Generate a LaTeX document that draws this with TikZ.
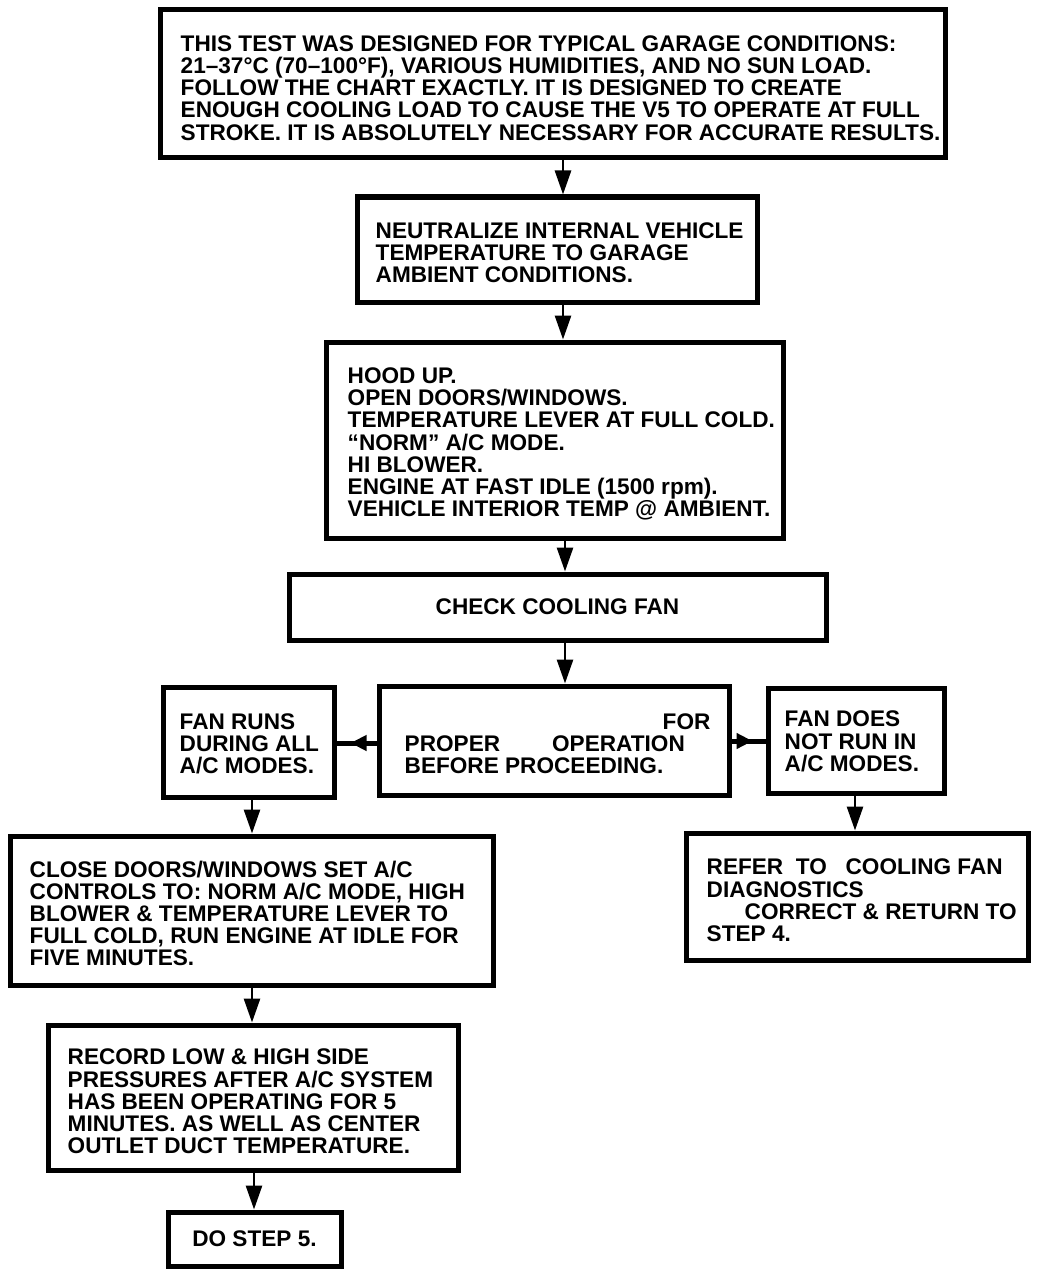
\documentclass[tikz,border=0pt]{standalone}
\usepackage{fontspec}
\setmainfont{Liberation Sans}
\usetikzlibrary{arrows.meta,decorations.markings}
\tikzset{
  box/.style={draw=black, line width=5pt, fill=white, inner sep=0pt},
  txt/.style={font=\fontsize{22.6}{22.2}\selectfont\bfseries, align=left, inner sep=0pt, text=black},
  ctxt/.style={font=\fontsize{22.6}{22.2}\selectfont\bfseries, align=center, text=black},
  arr/.style={draw=black, line width=2.8pt, -{Triangle[length=24pt,width=16pt]}},
  harr/.style={draw=black, line width=5pt, postaction={decorate},
    decoration={markings, mark=at position #1 with {\arrow{Triangle[length=16pt,width=15pt]}}}}
}
\begin{document}
\begin{tikzpicture}[x=1pt,y=-1pt]
\fill[white] (0,0) rectangle (1056,1276);
\useasboundingbox (0,0) rectangle (1056,1276);

% boxes
\node[box, minimum width=785pt, minimum height=148pt] (n1) at (552.5,84) {};
\node[txt, anchor=west] (t1) at ([xshift=23pt,yshift=-4pt]n1.west) {THIS TEST WAS DESIGNED FOR TYPICAL GARAGE CONDITIONS:\\21–37°C (70–100°F), VARIOUS HUMIDITIES, AND NO SUN LOAD.\\FOLLOW THE CHART EXACTLY. IT IS DESIGNED TO CREATE\\ENOUGH COOLING LOAD TO CAUSE THE V5 TO OPERATE AT FULL\\STROKE. IT IS ABSOLUTELY NECESSARY FOR ACCURATE RESULTS.};

\node[box, minimum width=400pt, minimum height=105pt] (n2) at (557,249.5) {};
\node[txt, anchor=west] (t2) at ([xshift=21pt,yshift=-3pt]n2.west) {NEUTRALIZE INTERNAL VEHICLE\\TEMPERATURE TO GARAGE\\AMBIENT CONDITIONS.};

\node[box, minimum width=457pt, minimum height=196pt] (n3) at (554.5,440) {};
\node[txt, anchor=west] (t3) at ([xshift=24pt,yshift=-4pt]n3.west) {HOOD UP.\\OPEN DOORS/WINDOWS.\\TEMPERATURE LEVER AT FULL COLD.\\“NORM” A/C MODE.\\HI BLOWER.\\ENGINE AT FAST IDLE (1500 rpm).\\VEHICLE INTERIOR TEMP @ AMBIENT.};

\node[box, minimum width=537pt, minimum height=66pt] (n4) at (557.5,607) {};
\node[ctxt] (t4) at (n4.center) {CHECK COOLING FAN};

\node[box, minimum width=350pt, minimum height=109pt] (n5) at (554,740.5) {};
\node[txt, anchor=west] (t5) at ([xshift=28pt,yshift=-3pt]n5.west) {\hspace*{258pt}FOR\\PROPER\hspace*{52pt}OPERATION\\BEFORE PROCEEDING.};

\node[box, minimum width=171pt, minimum height=110pt] (n6) at (248.5,742) {};
\node[txt, anchor=west] (t6) at ([xshift=19pt,yshift=-2pt]n6.west) {FAN RUNS\\DURING ALL\\A/C MODES.};

\node[box, minimum width=176pt, minimum height=105pt] (n7) at (856,740.5) {};
\node[txt, anchor=west] (t7) at ([xshift=19pt,yshift=-1pt]n7.west) {FAN DOES\\NOT RUN IN\\A/C MODES.};

\node[box, minimum width=483pt, minimum height=149pt] (n8) at (251.5,910.5) {};
\node[txt, anchor=west] (t8) at ([xshift=22pt,yshift=-3pt]n8.west) {CLOSE DOORS/WINDOWS SET A/C\\CONTROLS TO: NORM A/C MODE, HIGH\\BLOWER \& TEMPERATURE LEVER TO\\FULL COLD, RUN ENGINE AT IDLE FOR\\FIVE MINUTES.};

\node[box, minimum width=342pt, minimum height=127pt] (n9) at (857,896.5) {};
\node[txt, anchor=west] (t9) at ([xshift=23pt,yshift=-4pt]n9.west) {REFER\ \ TO\ \ \ COOLING FAN\\DIAGNOSTICS\\\hspace*{38pt}CORRECT \& RETURN TO\\STEP 4.};

\node[box, minimum width=410pt, minimum height=145pt] (n10) at (253,1097.5) {};
\node[txt, anchor=west] (t10) at ([xshift=22pt,yshift=-4pt]n10.west) {RECORD LOW \& HIGH SIDE\\PRESSURES AFTER A/C SYSTEM\\HAS BEEN OPERATING FOR 5\\MINUTES. AS WELL AS CENTER\\OUTLET DUCT TEMPERATURE.};

\node[box, minimum width=173pt, minimum height=54pt] (n11) at (254.5,1239) {};
\node[ctxt] (t11) at (n11.center) {DO STEP 5.};

% connectors
\coordinate (xa) at (563,0);
\coordinate (xb) at (565,0);
\coordinate (xc) at (252,0);
\coordinate (xd) at (254,0);
\coordinate (xe) at (855,0);
\coordinate (ya) at (0,743);
\coordinate (yb) at (0,741);

\draw[arr] (n1.south -| xa) -- (n2.north -| xa);
\draw[arr] (n2.south -| xa) -- (n3.north -| xa);
\draw[arr] (n3.south -| xb) -- (n4.north -| xb);
\draw[arr] (n4.south -| xb) -- (n5.north -| xb);
\draw[harr=0.65] (n5.west |- ya) -- (n6.east |- ya);
\draw[harr=0.62] (n5.east |- yb) -- (n7.west |- yb);
\draw[arr] (n6.south -| xc) -- (n8.north -| xc);
\draw[arr] (n8.south -| xc) -- (n10.north -| xc);
\draw[arr] (n10.south -| xd) -- (n11.north -| xd);
\draw[arr] (n7.south -| xe) -- (n9.north -| xe);
\end{tikzpicture}
\end{document}
